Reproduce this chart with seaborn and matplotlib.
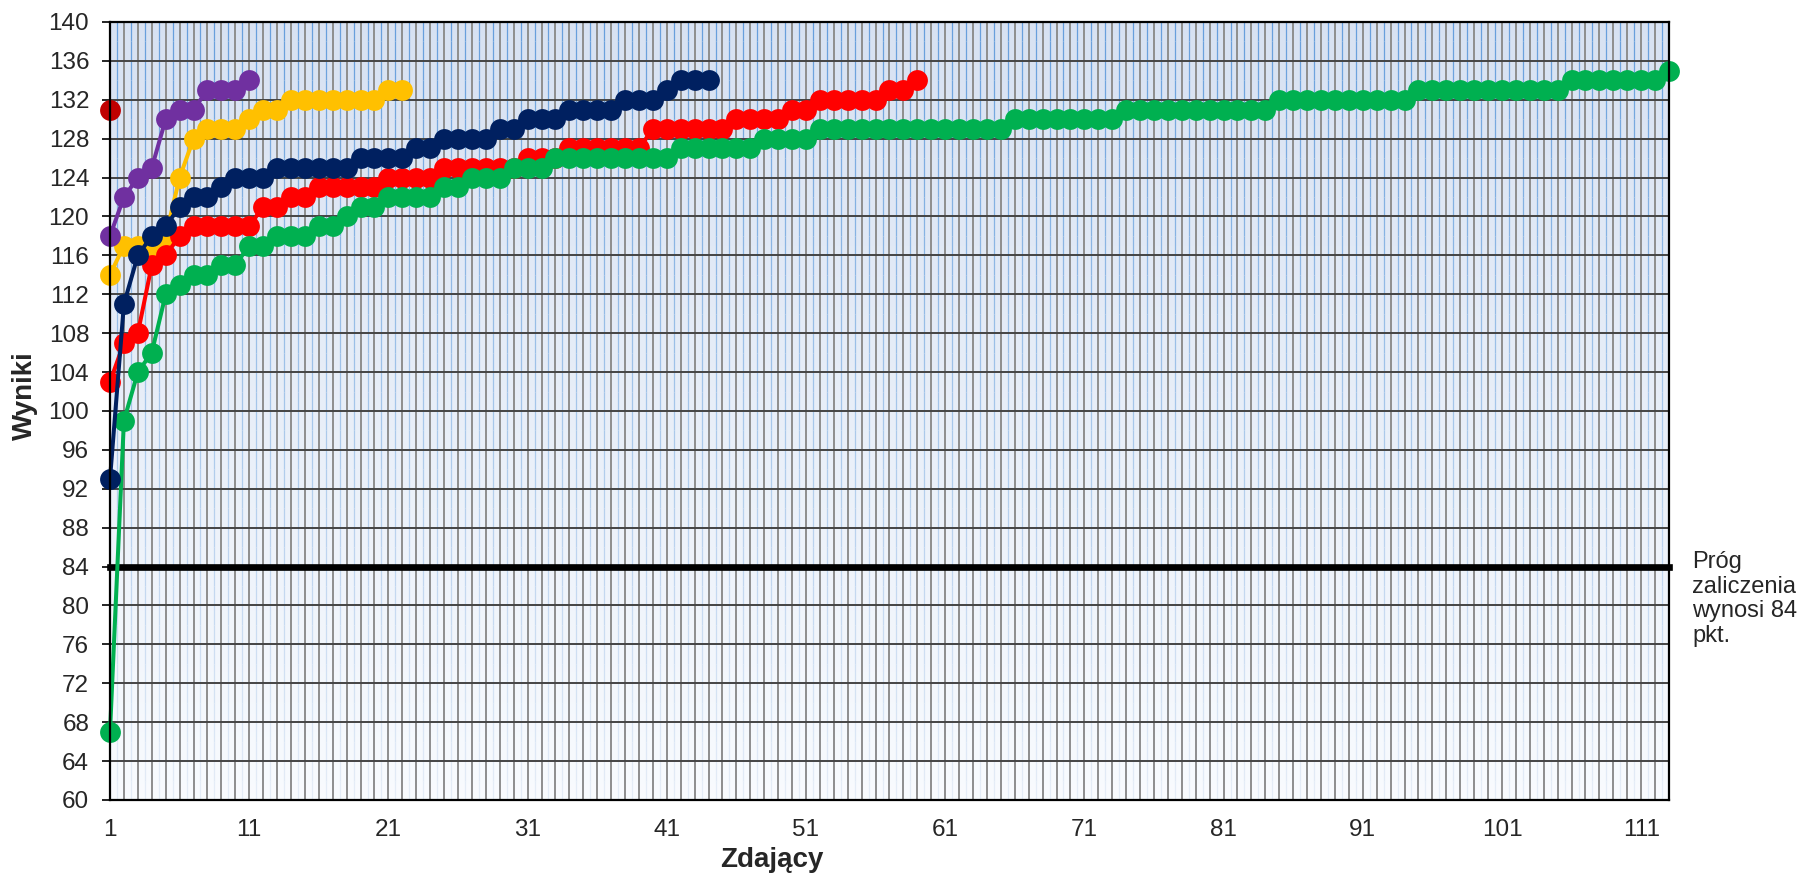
import numpy as np
import pandas as pd
import matplotlib
matplotlib.use("Agg")
import matplotlib.pyplot as plt
from matplotlib.collections import LineCollection
import seaborn as sns

# ---- data ----
green_scores = [67, 99, 104, 106, 112, 113, 114, 114, 115, 115, 117, 117, 118, 118, 118, 119, 119, 120,
                121, 121, 122, 122, 122, 122, 123, 123, 124, 124, 124, 125, 125, 125,
                126, 126, 126, 126, 126, 126, 126, 126, 126,
                127, 127, 127, 127, 127, 127,
                128, 128, 128, 128,
                129, 129, 129, 129, 129, 129, 129, 129, 129, 129, 129, 129, 129, 129,
                130, 130, 130, 130, 130, 130, 130, 130,
                131, 131, 131, 131, 131, 131, 131, 131, 131, 131, 131,
                132, 132, 132, 132, 132, 132, 132, 132, 132, 132,
                133, 133, 133, 133, 133, 133, 133, 133, 133, 133, 133,
                134, 134, 134, 134, 134, 134, 134,
                135]
red_scores = [103, 107, 108, 115, 116, 118, 119, 119, 119, 119, 119, 121, 121, 122, 122,
              123, 123, 123, 123, 123, 124, 124, 124, 124, 125, 125, 125, 125, 125, 125,
              126, 126, 126, 127, 127, 127, 127, 127, 127, 129, 129, 129, 129, 129, 129,
              130, 130, 130, 130, 131, 131, 132, 132, 132, 132, 132, 133, 133, 134]
navy_scores = [93, 111, 116, 118, 119, 121, 122, 122, 123, 124, 124, 124, 125, 125, 125, 125, 125, 125,
               126, 126, 126, 126, 127, 127, 128, 128, 128, 128, 129, 129, 130, 130, 130,
               131, 131, 131, 131, 132, 132, 132, 133, 134, 134, 134]
yellow_scores = [114, 117, 117, 117, 118, 124, 128, 129, 129, 129, 130, 131, 131,
                 132, 132, 132, 132, 132, 132, 132, 133, 133]
purple_scores = [118, 122, 124, 125, 130, 131, 131, 133, 133, 133, 134]
darkred_scores = [131]
threshold = 84
threshold_text = "Próg\nzaliczenia\nwynosi 84\npkt."
x_tick_labels = [1, 11, 21, 31, 41, 51, 61, 71, 81, 91, 101, 111]
y_ticks = [60, 64, 68, 72, 76, 80, 84, 88, 92, 96, 100, 104, 108, 112, 116, 120, 124, 128, 132, 136, 140]
n_students = 113

series = [
    ("yellow", yellow_scores, "#FFC000"),
    ("red", red_scores, "#FF0000"),
    ("green", green_scores, "#00B050"),
    ("navy", navy_scores, "#002060"),
    ("purple", purple_scores, "#7030A0"),
    ("darkred", darkred_scores, "#C00000"),
]

sns.set_style("white")
plt.rcParams['font.family'] = ['Liberation Sans', 'DejaVu Sans']

fig = plt.figure(figsize=(18, 8.76), dpi=100)
ax = fig.add_axes([110/1800, 76/876, 1559/1800, 778/876])

ymin, ymax = y_ticks[0], y_ticks[-1]

# gradient background
top = np.array([0.845, 0.885, 0.950])
bot = np.array([0.975, 0.985, 0.998])
t = np.linspace(0, 1, 256)[:, None]
grad = (top[None, :] * (1 - t) + bot[None, :] * t)[:, None, :]
ax.imshow(grad, extent=[1, n_students, ymin, ymax], aspect='auto', zorder=0,
          origin='upper', interpolation='bilinear')

# fading blue stripes between categories
nseg = 40
ys = np.linspace(ymax, ymin, nseg + 1)
blue_top = np.array([0.40, 0.62, 0.86])
blue_bot = np.array([0.90, 0.93, 0.97])
segs, cols = [], []
for xm in np.arange(1.5, n_students, 1):
    for k in range(nseg):
        segs.append([(xm, ys[k]), (xm, ys[k + 1])])
        f = (k + 0.5) / nseg
        cols.append(tuple(blue_top * (1 - f) + blue_bot * f))
ax.add_collection(LineCollection(segs, colors=cols, linewidths=0.9, zorder=0.4,
                                 capstyle='butt'))

for name, vals, col in series:
    df = pd.DataFrame({"x": np.arange(1, len(vals) + 1), "y": vals})
    sns.lineplot(data=df, x="x", y="y", ax=ax, color=col, marker='o', markersize=15,
                 markeredgewidth=0, linewidth=2.9, errorbar=None, clip_on=False, zorder=3)

ax.plot([1, n_students], [threshold, threshold], color='black', linewidth=4.8,
        solid_capstyle='projecting', clip_on=False, zorder=2.5)

ax.set_xlim(1, n_students)
ax.set_ylim(ymin, ymax)

major_x = np.arange(1, n_students + 1)
ax.set_xticks(major_x)
ax.set_xticklabels([str(v) if v in x_tick_labels else "" for v in major_x])
ax.set_yticks(y_ticks)
ax.set_yticklabels([str(v) for v in y_ticks])

ax.set_axisbelow(True)
ax.grid(which='major', axis='x', color='#8E8E8E', linewidth=1.4, zorder=0.5)
ax.grid(which='major', axis='y', color='#444444', linewidth=1.4, zorder=0.6)

ax.tick_params(axis='x', which='major', direction='in', length=6, width=1.2, color='black',
               labelsize=17.5, pad=14)
ax.tick_params(axis='y', which='major', direction='out', length=6, width=1.2, color='black',
               labelsize=17.5, pad=9, left=True)

for s in ax.spines.values():
    s.set_color('black')
    s.set_linewidth(1.6)
    s.set_zorder(4)

ax.set_xlabel("")
ax.set_ylabel("")
fig.text(772/1800, 1 - 860/876, "Zdający", ha='center', va='center', fontsize=20, fontweight='bold')
fig.text(25/1800, 1 - 396/876, "Wyniki", ha='center', va='center', rotation=90, fontsize=20,
         fontweight='bold')
fig.text(1692/1800, 1 - 551/876, threshold_text, ha='left', va='top', fontsize=17, linespacing=1.15)

fig.savefig("out.png", dpi=100)
